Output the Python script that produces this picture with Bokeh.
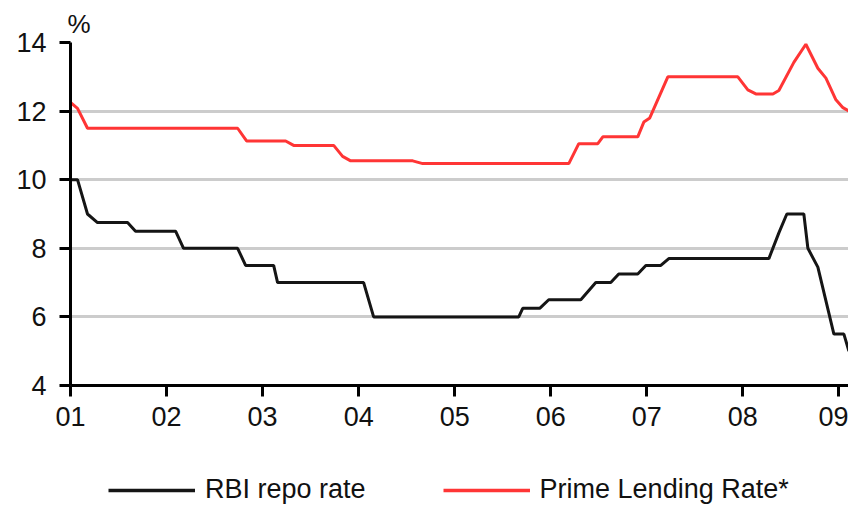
from bokeh.plotting import figure
from bokeh.models import Range1d, FixedTicker, Legend, LegendItem
from bokeh.layouts import column
from bokeh.embed import file_html
from bokeh.resources import INLINE

# ---- data ----
repo_t = [2001.00, 2001.073, 2001.177, 2001.281, 2001.594, 2001.677, 2002.094, 2002.177,
          2002.740, 2002.823, 2003.115, 2003.156, 2004.052, 2004.156, 2005.667, 2005.708,
          2005.885, 2005.979, 2006.313, 2006.469, 2006.625, 2006.708, 2006.906, 2006.990,
          2007.146, 2007.229, 2008.271, 2008.375, 2008.458, 2008.635, 2008.677, 2008.781,
          2008.948, 2009.052, 2009.104]
repo_v = [10.0, 10.0, 9.0, 8.75, 8.75, 8.5, 8.5, 8.0,
          8.0, 7.5, 7.5, 7.0, 7.0, 6.0, 6.0, 6.25,
          6.25, 6.5, 6.5, 7.0, 7.0, 7.25, 7.25, 7.5,
          7.5, 7.7, 7.7, 8.45, 9.0, 9.0, 8.0, 7.45,
          5.5, 5.5, 5.0]

plr_t = [2001.00, 2001.073, 2001.177, 2002.740, 2002.833, 2003.240, 2003.323, 2003.740,
         2003.833, 2003.917, 2004.563, 2004.667, 2006.188, 2006.292, 2006.490, 2006.542,
         2006.906, 2006.969, 2007.031, 2007.219, 2007.948, 2008.052, 2008.135, 2008.313,
         2008.375, 2008.531, 2008.656, 2008.781, 2008.865, 2008.969, 2009.042, 2009.104]
plr_v = [12.25, 12.08, 11.5, 11.5, 11.13, 11.13, 11.0, 11.0,
         10.68, 10.55, 10.55, 10.47, 10.47, 11.05, 11.05, 11.25,
         11.25, 11.68, 11.8, 13.0, 13.0, 12.62, 12.5, 12.5,
         12.6, 13.42, 13.95, 13.25, 12.96, 12.33, 12.1, 12.0]

year_ticks = [2001, 2002, 2003, 2004, 2005, 2006, 2007, 2008, 2009]
year_labels = ["01", "02", "03", "04", "05", "06", "07", "08", "09"]
y_ticks = [4, 6, 8, 10, 12, 14]
unit_label = "%"
series_names = ["RBI repo rate", "Prime Lending Rate*"]
series_colors = ["#151515", "#ff3535"]

FONT = "Liberation Sans, Arial"

p = figure(width=848, height=450, output_backend="svg", toolbar_location=None,
           x_range=Range1d(2001, 2009.1), y_range=Range1d(4, 14),
           min_border_left=70, min_border_right=0, min_border_top=42, min_border_bottom=65)
p.outline_line_color = None
p.background_fill_color = "white"
p.border_fill_color = "white"

# unit label above the y axis (as the plot title, left aligned)
p.title.text = unit_label
p.title.align = "left"
p.title.offset = -3
p.title.standoff = 8
p.title.text_font = FONT
p.title.text_font_size = "26px"
p.title.text_font_style = "normal"
p.title.text_color = "#111111"

p.line(repo_t, repo_v, line_color=series_colors[0], line_width=3)
p.line(plr_t, plr_v, line_color=series_colors[1], line_width=3)

# axes
p.xaxis.ticker = FixedTicker(ticks=year_ticks)
p.xaxis.major_label_overrides = {t: l for t, l in zip(year_ticks, year_labels)}
p.yaxis.ticker = FixedTicker(ticks=y_ticks)
for ax in (p.xaxis[0], p.yaxis[0]):
    ax.axis_line_width = 3
    ax.axis_line_color = "black"
    ax.major_tick_line_width = 3
    ax.major_tick_line_color = "black"
    ax.major_tick_out = 11
    ax.major_tick_in = 0
    ax.minor_tick_line_color = None
    ax.major_label_text_color = "#111111"
    ax.major_label_text_font = FONT
p.xaxis.major_label_text_font_size = "27px"
p.xaxis.major_label_standoff = 10
p.yaxis.major_label_text_font_size = "27px"
p.yaxis.major_label_standoff = 13

p.xgrid.grid_line_color = None
p.ygrid.ticker = FixedTicker(ticks=[6, 8, 10, 12, 14])
p.ygrid.grid_line_color = "#cccccc"
p.ygrid.grid_line_width = 3

# ---- legend strip below the chart (series drawn out of view, used only as legend keys) ----
leg = figure(width=848, height=55, output_backend="svg", toolbar_location=None,
             x_range=Range1d(0, 1), y_range=Range1d(0, 1),
             x_axis_type=None, y_axis_type=None,
             min_border_left=0, min_border_right=0, min_border_top=0, min_border_bottom=0)
leg.outline_line_color = None
leg.grid.grid_line_color = None
k1 = leg.line(repo_t, repo_v, line_color=series_colors[0], line_width=3.5)
k2 = leg.line(plr_t, plr_v, line_color=series_colors[1], line_width=3.5)

legend = Legend(items=[LegendItem(label=series_names[0], renderers=[k1]),
                       LegendItem(label=series_names[1], renderers=[k2])],
                orientation="horizontal", location=(38, 0),
                glyph_width=87, glyph_height=28, label_height=28, label_standoff=10,
                spacing=77, padding=0, margin=0,
                border_line_color=None, background_fill_alpha=0,
                label_text_font=FONT, label_text_font_size="27px", label_text_color="#111111")
leg.add_layout(legend, "center")

layout = column(p, leg, spacing=0)
open("out.html", "w").write(file_html(layout, INLINE))
